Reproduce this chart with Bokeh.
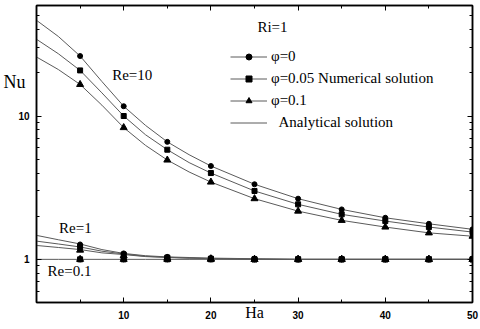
from bokeh.plotting import figure
from bokeh.models import FixedTicker, LogAxis, LinearAxis, Label, Legend, LegendItem
from bokeh.embed import file_html
from bokeh.resources import INLINE

# ---- data ----
ha_num = [5, 10, 15, 20, 25, 30, 35, 40, 45, 50]
nu_re10_phi0 = [26.2, 11.7, 6.6, 4.48, 3.34, 2.65, 2.23, 1.95, 1.77, 1.62]
nu_re10_phi005 = [20.8, 10.0, 5.82, 4.0, 3.0, 2.42, 2.06, 1.85, 1.68, 1.55]
nu_re10_phi01 = [16.6, 8.3, 4.93, 3.46, 2.65, 2.17, 1.87, 1.68, 1.53, 1.45]
nu_re1_phi0 = [1.27, 1.10, 1.04, 1.02, 1.01, 1.0, 1.0, 1.0, 1.0, 1.0]
nu_re1_phi005 = [1.22, 1.08, 1.03, 1.01, 1.0, 1.0, 1.0, 1.0, 1.0, 1.0]
nu_re1_phi01 = [1.16, 1.06, 1.02, 1.01, 1.0, 1.0, 1.0, 1.0, 1.0, 1.0]
nu_re01_phi0 = [1.0, 1.0, 1.0, 1.0, 1.0, 1.0, 1.0, 1.0, 1.0, 1.0]
nu_re01_phi005 = [1.0, 1.0, 1.0, 1.0, 1.0, 1.0, 1.0, 1.0, 1.0, 1.0]
nu_re01_phi01 = [1.0, 1.0, 1.0, 1.0, 1.0, 1.0, 1.0, 1.0, 1.0, 1.0]

ha_an = [0, 2.5, 5, 7.5, 10, 12.5, 15, 17.5, 20, 25, 30, 35, 40, 45, 50]
an_re10_phi0 = [46.5, 35.9, 26.2, 17.4, 11.7, 8.6, 6.6, 5.37, 4.48, 3.34, 2.65, 2.23, 1.95, 1.77, 1.62]
an_re10_phi005 = [34.3, 27.2, 20.8, 14.5, 10.0, 7.4, 5.82, 4.73, 4.0, 3.0, 2.42, 2.06, 1.85, 1.68, 1.55]
an_re10_phi01 = [25.8, 21.1, 16.6, 11.9, 8.3, 6.24, 4.93, 4.07, 3.46, 2.65, 2.17, 1.87, 1.68, 1.53, 1.45]
an_re1_phi0 = [1.47, 1.37, 1.28, 1.17, 1.10, 1.06, 1.04, 1.03, 1.02, 1.01, 1.0, 1.0, 1.0, 1.0, 1.0]
an_re1_phi005 = [1.34, 1.28, 1.22, 1.14, 1.09, 1.05, 1.035, 1.02, 1.015, 1.005, 1.0, 1.0, 1.0, 1.0, 1.0]
an_re1_phi01 = [1.25, 1.21, 1.17, 1.11, 1.08, 1.045, 1.03, 1.02, 1.01, 1.0, 1.0, 1.0, 1.0, 1.0, 1.0]
an_re01 = [1.0, 1.0, 1.0, 1.0, 1.0, 1.0, 1.0, 1.0, 1.0, 1.0, 1.0, 1.0, 1.0, 1.0, 1.0]

x_major = [10, 20, 30, 40, 50]
x_minor = [5, 15, 25, 35, 45]
y_major = [1, 10]
y_minor = [0.5, 0.6, 0.7, 0.8, 0.9, 2, 3, 4, 5, 6, 7, 8, 9, 20, 30, 40, 50]
legend_labels = ["\u03c6=0", "\u03c6=0.05 Numerical solution", "\u03c6=0.1",
                 "\u00a0\u00a0Analytical solution"]
x_title = "Ha"
y_title = "Nu"
y_title_at = 17.4   # Nu value beside which the y title sits

SERIF = "Liberation Serif"
SANS = "Liberation Sans"
LINE_C = "#5a5a5a"

p = figure(width=480, height=329, x_range=(0, 50), y_range=(0.5, 59),
           y_axis_type="log", output_backend="svg", toolbar_location=None,
           min_border_left=35, min_border_right=8, min_border_top=5, min_border_bottom=27,
           background_fill_color="white", border_fill_color="white")
p.grid.visible = False
p.outline_line_color = "black"
p.outline_line_width = 1.5


def style_axis(ax, labels=True):
    ax.axis_line_color = "black"
    ax.axis_line_width = 1.5
    ax.major_tick_in = 5
    ax.major_tick_out = 0
    ax.minor_tick_in = 3
    ax.minor_tick_out = 0
    ax.major_tick_line_color = "black"
    ax.minor_tick_line_color = "black"
    ax.major_tick_line_width = 1
    ax.minor_tick_line_width = 1
    if labels:
        ax.major_label_text_font = SANS
        ax.major_label_text_font_size = "10px"
        ax.major_label_text_font_style = "bold"
        ax.major_label_text_color = "black"
    else:
        ax.major_label_text_font_size = "1px"
        ax.major_label_text_color = None
        ax.major_label_standoff = 0


xa = p.xaxis[0]
xa.ticker = FixedTicker(ticks=x_major, minor_ticks=x_minor)
style_axis(xa)
xa.major_label_standoff = 8
xa.axis_label = x_title
xa.axis_label_text_font = SERIF
xa.axis_label_text_font_size = "16px"
xa.axis_label_text_font_style = "normal"
xa.axis_label_text_color = "black"
xa.axis_label_standoff = -18

ya = p.yaxis[0]
ya.ticker = FixedTicker(ticks=y_major, minor_ticks=y_minor)
ya.major_label_overrides = {1: "1", 10: "10"}
style_axis(ya)
ya.major_label_standoff = 7

# second (outer) left axis that only carries the "Nu" title as its single label
title_axis = LogAxis(ticker=FixedTicker(ticks=[y_title_at], minor_ticks=[]),
                     major_label_overrides={y_title_at: y_title},
                     axis_line_color=None, major_tick_line_color=None,
                     minor_tick_line_color=None, major_tick_in=0, major_tick_out=0,
                     minor_tick_in=0, minor_tick_out=0,
                     major_label_standoff=-10, major_label_text_font=SERIF,
                     major_label_text_font_size="18px", major_label_text_color="black")
p.add_layout(title_axis, "left")

top = LinearAxis(ticker=FixedTicker(ticks=x_major, minor_ticks=x_minor))
style_axis(top, labels=False)
p.add_layout(top, "above")
right = LogAxis(ticker=FixedTicker(ticks=y_major, minor_ticks=y_minor))
style_axis(right, labels=False)
p.add_layout(right, "right")

# analytical lines
lines = []
for ys in [an_re10_phi0, an_re10_phi005, an_re10_phi01,
           an_re1_phi0, an_re1_phi005, an_re1_phi01, an_re01]:
    lines.append(p.line(ha_an, ys, line_color=LINE_C, line_width=1))

# numerical markers
markers = {"circle": [], "square": [], "triangle": []}
sets = [(nu_re10_phi0, nu_re10_phi005, nu_re10_phi01),
        (nu_re1_phi0, nu_re1_phi005, nu_re1_phi01),
        (nu_re01_phi0, nu_re01_phi005, nu_re01_phi01)]
for s0, s1, s2 in sets:
    markers["circle"].append(p.scatter(ha_num, s0, marker="circle", size=5,
                                       fill_color="black", line_color="black"))
    markers["square"].append(p.scatter(ha_num, s1, marker="square", size=5,
                                       fill_color="black", line_color="black"))
    markers["triangle"].append(p.scatter(ha_num, s2, marker="triangle", size=7,
                                         fill_color="black", line_color="black"))

legend = Legend(items=[
    LegendItem(label=legend_labels[0], renderers=[lines[0], markers["circle"][0]]),
    LegendItem(label=legend_labels[1], renderers=[lines[1], markers["square"][0]]),
    LegendItem(label=legend_labels[2], renderers=[lines[2], markers["triangle"][0]]),
    LegendItem(label=legend_labels[3], renderers=[lines[6]]),
], location=(194, 171), padding=0, margin=0, spacing=5,
    glyph_width=37, glyph_height=15, label_height=15, label_standoff=4,
    label_text_font=SERIF, label_text_font_size="15px", label_text_color="black",
    border_line_color=None, background_fill_alpha=0)
p.add_layout(legend)


def add_label(x, y, text, size, align="center"):
    p.add_layout(Label(x=x, y=y, text=text, text_font=SERIF, text_font_size=size,
                       text_align=align, text_baseline="middle", text_color="black"))


add_label(27.06, 41.5, "Ri=1", "15px")
add_label(10.98, 19.2, "Re=10", "15px")
add_label(4.46, 1.656, "Re=1", "15px")
add_label(3.78, 0.823, "Re=0.1", "15px")

open("out.html", "w").write(file_html(p, INLINE))
